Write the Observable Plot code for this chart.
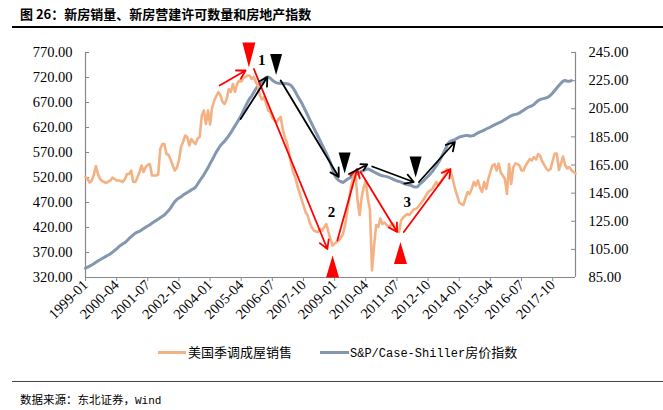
<!DOCTYPE html>
<html><head><meta charset="utf-8">
<script src="https://cdn.jsdelivr.net/npm/d3@7"></script>
<script src="https://cdn.jsdelivr.net/npm/@observablehq/plot@0.6"></script>
<style>
body{margin:0;background:#fff;}
#wrap{position:relative;width:663px;height:410px;overflow:hidden;background:#fff;font-family:"Noto Sans CJK SC",sans-serif;color:#000;}
#title{position:absolute;left:20px;top:6px;font-size:13px;font-weight:bold;line-height:16px;white-space:nowrap;}
#rule1{position:absolute;left:12px;top:26px;width:651px;height:2px;background:#000;}
#chart{position:absolute;left:0;top:30px;}
.lg-line{position:absolute;top:351px;height:3px;}
.lg-text{position:absolute;top:344px;font-size:13px;line-height:16px;white-space:nowrap;font-family:"Noto Sans CJK SC",sans-serif;}
.mono{font-family:"Liberation Mono",monospace;font-size:12px;}
#rule2{position:absolute;left:12px;top:381px;width:651px;height:1px;background:#444;}
#source{position:absolute;left:20px;top:392px;font-size:11.5px;line-height:14px;white-space:nowrap;font-family:"Noto Sans CJK SC",sans-serif;}
</style>
</head><body>
<div id="wrap">
  <div id="title">图 26：新房销量、新房营建许可数量和房地产指数</div>
  <div id="rule1"></div>
  <div id="chart"></div>
  <div class="lg-line" style="left:158px;width:28px;background:#F4B183"></div>
  <div class="lg-text" style="left:188px">美国季调成屋销售</div>
  <div class="lg-line" style="left:320px;width:29px;background:#8497B0"></div>
  <div class="lg-text" style="left:350px"><span class="mono">S&amp;P/Case-Shiller</span>房价指数</div>
  <div id="rule2"></div>
  <div id="source">数据来源：东北证券，<span class="mono" style="font-size:11px">Wind</span></div>
</div>
<script>
// Month index 0 = 1999-01
const xTickLabels = ["1999-01","2000-04","2001-07","2002-10","2004-01","2005-04","2006-07","2007-10","2009-01","2010-04","2011-07","2012-10","2014-01","2015-04","2016-07","2017-10"];
const leftTicks = [320,370,420,470,520,570,620,670,720,770];
const rightTicks = [85,105,125,145,165,185,205,225,245];

// 美国季调成屋销售 (left axis), monthly from 1999-01
const sales = [
521,517,510,514,525,543,527,517,513,511,509,512,
514,520,517,514,514,513,511,517,527,527,534,511,
511,520,531,544,531,541,545,547,524,524,524,526,
577,587,587,567,565,556,544,534,540,554,581,591,
604,601,584,597,591,587,598,601,644,654,627,654,
626,660,674,683,691,684,671,667,677,697,691,707,
691,707,714,712,719,721,724,724,717,721,711,704,
684,676,681,667,654,651,640,634,631,637,641,617,
600,590,570,548,531,521,504,491,477,464,451,444,
430,420,414,412,411,417,414,421,427,411,397,384,
388,391,394,400,407,424,451,477,504,521,530,475,
445,480,500,512,478,455,334,384,425,421,438,427,
430,425,421,424,428,421,414,411,434,440,444,447,
445,450,456,457,460,466,471,477,484,491,494,497,
504,511,504,511,517,524,537,534,531,515,497,484,
470,467,465,478,491,487,497,511,504,514,500,491,
511,497,517,531,544,547,534,548,530,524,517,487,
547,507,540,548,547,544,534,534,544,551,557,554,
561,556,567,563,552,545,537,534,537,554,568,568,
535,548,562,545,538,541,535,531,528
];

// S&P/Case-Shiller房价指数 (right axis), monthly from 1999-01
const caseShiller = [
91.6,92.4,93.1,93.9,94.8,95.8,96.8,97.6,98.5,99.3,100.2,101.0,
101.8,103.0,104.2,105.4,106.8,108.0,109.0,109.8,111.2,112.8,114.0,115.3,
116.5,117.2,117.8,118.8,119.9,120.8,121.6,122.5,123.6,124.6,125.6,126.5,
127.5,128.5,129.5,131.0,132.6,134.5,136.8,138.9,140.5,141.5,142.3,143.6,
144.6,145.5,146.4,147.3,148.1,149.2,151.5,153.8,155.9,158.0,160.5,163.0,
166.0,168.5,171.5,174.2,176.6,178.9,180.5,182.0,183.8,185.8,188.0,190.5,
192.8,195.2,197.6,200.5,203.5,206.5,209.5,212.1,214.0,216.5,219.0,221.0,
222.8,224.5,226.0,227.3,227.5,226.8,225.3,224.2,223.4,223.2,223.3,223.2,
223.0,222.8,222.4,221.5,219.8,217.3,214.5,212.0,209.5,206.5,203.5,200.5,
197.2,194.2,191.2,188.2,185.3,182.3,179.2,176.3,173.2,170.0,166.5,162.0,
157.8,155.5,154.0,153.1,152.6,153.6,154.8,155.6,156.4,157.2,158.0,158.7,
159.8,160.6,161.1,161.7,162.2,161.5,160.8,160.0,159.2,158.5,157.8,157.4,
157.1,156.7,156.3,155.6,155.0,154.2,153.7,153.3,152.8,152.1,151.5,151.1,
150.7,150.3,149.6,149.3,149.6,151.4,152.6,154.0,155.6,157.0,158.6,160.3,
162.4,164.5,166.8,169.3,172.4,175.3,178.5,181.0,182.0,182.6,183.1,184.0,
184.8,185.3,185.6,185.9,186.0,185.6,185.7,186.0,187.0,187.8,188.5,189.1,
189.8,190.6,191.3,192.0,192.8,193.5,194.3,195.0,195.6,196.4,197.3,198.3,
199.2,200.0,200.6,201.0,201.3,202.0,203.0,204.0,205.0,205.9,206.6,207.1,
208.0,209.5,210.8,211.6,212.0,212.4,212.8,213.4,214.7,216.2,218.0,219.8,
221.5,223.2,224.6,225.1,224.6,224.5,225.0
];

// Annotations (month index, left-axis value)
const redArrows = [
  {m1:64.6,v1:704,m2:77.1,v2:734},
  {m1:81.1,v1:737,m2:116.5,v2:377},
  {m1:121.3,v1:394,m2:130.9,v2:537},
  {m1:132.5,v1:531,m2:150.1,v2:411},
  {m1:153.3,v1:411,m2:175.8,v2:537}
];
const blackArrows = [
  {m1:74.7,v1:637,m2:87.6,v2:721},
  {m1:94,v1:714,m2:122,v2:521},
  {m1:126.9,v1:527,m2:135.7,v2:546},
  {m1:138.1,v1:542,m2:158.1,v2:511},
  {m1:160.6,v1:511,m2:177.9,v2:591}
];
const redDown = [{m:78.7,v:765}];
const blackDown = [{m:91.8,v:746},{m:124.8,v:549},{m:159,v:541}];
const redUp = [{m:119,v:342},{m:151.7,v:369}];
const numLabels = [{m:84.9,v:754,t:"1"},{m:118.5,v:451,t:"2"},{m:155,v:471,t:"3"}];

// secondary axis mapping: right 85..245 onto left 320..770
const L0 = 320, L1 = 770, R0 = 85, R1 = 245;
const toLeft = r => L0 + (r - R0) * (L1 - L0) / (R1 - R0);
const fromLeft = l => R0 + (l - L0) * (R1 - R0) / (L1 - L0);
const monthIndex = s => (+s.slice(0,4) - 1999) * 12 + (+s.slice(5) - 1);
const xTicks = xTickLabels.map(monthIndex);
const labelOf = new Map(xTickLabels.map(s => [monthIndex(s), s]));

const salesData = sales.map((v, i) => ({m: i, v}));
const csData = caseShiller.map((v, i) => ({m: i, v: toLeft(v)}));

const triDownRed = {draw(c){c.moveTo(-6.5,-12.5);c.lineTo(6.5,-12.5);c.lineTo(0,12.5);c.closePath();}};
const triDownBlack = {draw(c){c.moveTo(-6,-10.5);c.lineTo(6,-10.5);c.lineTo(0,10.5);c.closePath();}};
const triUpRed = {draw(c){c.moveTo(-6.5,11);c.lineTo(6.5,11);c.lineTo(0,-11);c.closePath();}};

const W = 663, H = 320, mL = 85, mR = 88, mT = 22, mB = 73;
const plotW = W - mL - mR;
const axisGray = "#888";

const chart = Plot.plot({
  width: W, height: H,
  marginLeft: mL, marginRight: mR, marginTop: mT, marginBottom: mB,
  style: {fontFamily: "'Liberation Serif', serif", fontSize: "14.5px", background: "white", color: "black", overflow: "visible"},
  x: {type: "linear", domain: [0, 236]},
  y: {domain: [L0, L1]},
  marks: [
    Plot.axisY({anchor: "left", ticks: leftTicks, tickFormat: d => d.toFixed(2), tickSize: 0, tickPadding: 13, label: null}),
    Plot.axisY({anchor: "right", ticks: rightTicks.map(toLeft), tickFormat: d => fromLeft(d).toFixed(2), tickSize: 0, tickPadding: 13, label: null}),
    Plot.axisX({ticks: xTicks, tickFormat: d => labelOf.get(Math.round(d)), tickRotate: -45, tickSize: 4, tickPadding: 1, stroke: axisGray, label: null, fontSize: 14.5}),
    Plot.tickY(leftTicks, {y: d => d, insetRight: plotW - 4, stroke: axisGray}),
    Plot.tickY(rightTicks.map(toLeft), {y: d => d, insetLeft: plotW - 4, stroke: axisGray}),
    Plot.ruleX([0, 236], {stroke: axisGray, strokeWidth: 1.2}),
    Plot.ruleY([L0], {stroke: axisGray, strokeWidth: 1.2}),
    Plot.line(csData, {x: "m", y: "v", stroke: "#8497B0", strokeWidth: 3, strokeLinejoin: "round"}),
    Plot.line(salesData, {x: "m", y: "v", stroke: "#F4B183", strokeWidth: 2.6, strokeLinejoin: "round"}),
    Plot.arrow(redArrows, {x1: "m1", y1: "v1", x2: "m2", y2: "v2", stroke: "#FF0000", strokeWidth: 1.8, headLength: 8}),
    Plot.arrow(blackArrows, {x1: "m1", y1: "v1", x2: "m2", y2: "v2", stroke: "#000", strokeWidth: 1.8, headLength: 8}),
    Plot.dot(redDown, {x: "m", y: "v", symbol: triDownRed, fill: "#FF0000", stroke: null}),
    Plot.dot(redUp, {x: "m", y: "v", symbol: triUpRed, fill: "#FF0000", stroke: null}),
    Plot.dot(blackDown, {x: "m", y: "v", symbol: triDownBlack, fill: "#000", stroke: null}),
    Plot.text(numLabels, {x: "m", y: "v", text: "t", fontSize: 15, fontWeight: "bold", fontFamily: "'Liberation Serif', serif", fill: "#000"})
  ]
});
document.getElementById("chart").appendChild(chart);
</script>
</body></html>
